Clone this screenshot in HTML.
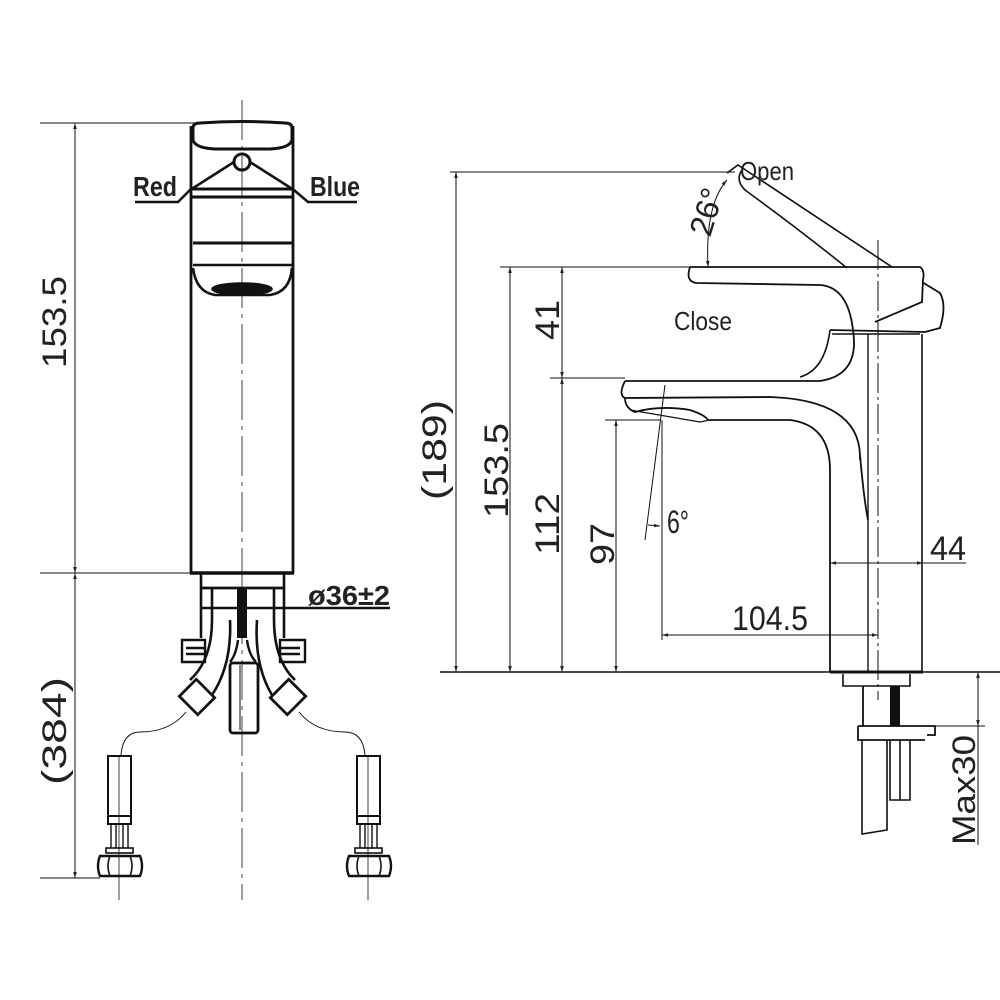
<!DOCTYPE html>
<html><head><meta charset="utf-8"><style>
html,body{margin:0;padding:0;background:#fff}
svg{display:block}
text{font-family:"Liberation Sans",sans-serif;fill:#222}
</style></head><body>
<svg width="1000" height="1000" viewBox="0 0 1000 1000" xmlns="http://www.w3.org/2000/svg">
<defs>
<marker id="a" viewBox="0 0 10 10" refX="10" refY="5" markerWidth="8" markerHeight="6" orient="auto-start-reverse"><path d="M0,2 L10,5 L0,8 z" fill="#222"/></marker>
</defs>
<g fill="none" stroke="#111" stroke-width="1.6">
<!-- LEFT VIEW -->
<line x1="242" y1="100" x2="242" y2="900" stroke-width="0.8" stroke-dasharray="40,6,4,6"/>
<line x1="40" y1="123" x2="195" y2="123" stroke-width="1"/>
<line x1="40" y1="573" x2="190" y2="573" stroke-width="1"/>
<line x1="40" y1="878" x2="100" y2="878" stroke-width="1"/>
<line x1="75" y1="123" x2="75" y2="573" stroke-width="1" marker-start="url(#a)" marker-end="url(#a)"/>
<line x1="75" y1="573" x2="75" y2="878" stroke-width="1" marker-start="url(#a)" marker-end="url(#a)"/>
<path d="M193,128 Q193,123 200,123 Q242,120 285,123 Q292,123 292,128 L292,140 Q290,148 270,149 L215,149 Q195,148 193,140 Z" stroke-width="3"/>
<line x1="191" y1="126" x2="191" y2="573" stroke-width="2.8"/>
<line x1="293" y1="126" x2="293" y2="573" stroke-width="2.8"/>
<line x1="191" y1="189" x2="293" y2="189" stroke-width="3"/>
<line x1="191" y1="197" x2="293" y2="197" stroke-width="3"/>
<circle cx="242" cy="162" r="8" stroke-width="3"/>
<path d="M135,202 L178,202 L190,190 L234,162" stroke-width="2.6"/>
<path d="M357,202 L308,202 L294,190 L250,162" stroke-width="2.6"/>
<line x1="193" y1="243" x2="292" y2="243" stroke-width="3"/>
<line x1="193" y1="265" x2="292" y2="265" stroke-width="2.4"/>
<path d="M193,268 Q196,292 215,295 L270,295 Q290,292 292,268" stroke-width="2.6"/>
<ellipse cx="242" cy="289" rx="30" ry="6" fill="#111"/>
<line x1="190" y1="573" x2="294" y2="573" stroke-width="3.4"/>
<path d="M201,573 L201,638 M284,573 L284,638 M212,588 L212,620 M274,588 L274,620" stroke-width="2.6"/>
<line x1="201" y1="588" x2="284" y2="588" stroke-width="2.8"/>
<line x1="201" y1="608" x2="390" y2="608" stroke-width="2.6"/>
<rect x="237" y="588" width="10" height="50" fill="#111" stroke="none"/>
<path d="M182,640 L205,640 L205,662 L182,662 Z M186,648 L205,648 M186,654 L205,654 M280,640 L305,640 L305,662 L280,662 Z M280,648 L300,648 M280,654 L300,654" stroke-width="2.4"/>
<path d="M212,620 Q212,660 190,680 M230,620 Q232,665 212,695 M274,620 Q274,660 295,680 M257,620 Q254,665 272,695" stroke-width="2.6"/>
<path d="M238,640 Q236,655 230,662 M247,640 Q249,655 256,662" stroke-width="2.4"/>
<rect x="230" y="663" width="28" height="70" rx="3" stroke-width="2.8"/>
<line x1="240" y1="665" x2="240" y2="730" stroke-width="1"/>
<rect x="-13" y="-12" width="26" height="24" transform="translate(197,697) rotate(45)" stroke-width="2.8"/>
<rect x="-13" y="-12" width="26" height="24" transform="translate(288,697) rotate(-45)" stroke-width="2.8"/>
<path d="M186,712 Q170,732 140,732 Q123,732 121,755 M299,712 Q315,732 345,732 Q363,732 365,755" stroke-width="1"/>
<g id="he">
<rect x="108" y="756" width="23" height="60" stroke-width="2"/>
<line x1="119" y1="756" x2="119" y2="900" stroke-width="0.8"/>
<rect x="108" y="816" width="23" height="8" stroke-width="2"/>
<path d="M111,824 L111,848 M116,824 L116,848 M123,824 L123,848 M128,824 L128,848" stroke-width="1.4"/>
<rect x="106" y="848" width="27" height="5" stroke-width="1.6"/>
<path d="M100,856 Q96,866 100,876 L140,876 Q144,866 140,856 Z" stroke-width="2.4"/>
<path d="M110,856 Q106,866 110,876 M130,856 Q134,866 130,876" stroke-width="1.6"/>
</g>
<use href="#he" transform="translate(249,0)"/>
<!-- RIGHT VIEW -->
<line x1="440" y1="672" x2="1000" y2="672" stroke-width="1.6"/>
<line x1="450" y1="172" x2="735" y2="172" stroke-width="1"/>
<line x1="500" y1="267" x2="690" y2="267" stroke-width="1"/>
<line x1="550" y1="378" x2="625" y2="378" stroke-width="1"/>
<line x1="605" y1="420" x2="660" y2="420" stroke-width="1"/>
<line x1="456" y1="172" x2="456" y2="672" stroke-width="1" marker-start="url(#a)" marker-end="url(#a)"/>
<line x1="510" y1="267" x2="510" y2="672" stroke-width="1" marker-start="url(#a)" marker-end="url(#a)"/>
<line x1="562" y1="267" x2="562" y2="378" stroke-width="1" marker-start="url(#a)" marker-end="url(#a)"/>
<line x1="562" y1="378" x2="562" y2="672" stroke-width="1" marker-start="url(#a)" marker-end="url(#a)"/>
<line x1="616" y1="420" x2="616" y2="672" stroke-width="1" marker-start="url(#a)" marker-end="url(#a)"/>
<line x1="662" y1="420" x2="662" y2="640" stroke-width="1"/>
<line x1="662" y1="635" x2="878" y2="635" stroke-width="1" marker-start="url(#a)" marker-end="url(#a)"/>
<line x1="830" y1="563" x2="923" y2="563" stroke-width="1" marker-start="url(#a)" marker-end="url(#a)"/>
<line x1="923" y1="563" x2="966" y2="563" stroke-width="1"/>
<line x1="665" y1="385" x2="645" y2="540" stroke-width="1"/>
<path d="M648,525 L660,526" stroke-width="1" marker-end="url(#a)"/>
<line x1="878" y1="240" x2="878" y2="700" stroke-width="1" stroke-dasharray="30,4,3,4"/>
<path d="M708,267 Q705,205 727,180" stroke-width="1" marker-start="url(#a)" marker-end="url(#a)"/>
<path d="M727,173 L738,165 L892,267 M847,268 Q800,230 745,190 Q735,180 742,170" stroke-width="1.6"/>
<path d="M690,267 L920,267 Q925,270 923,280 L922,302 L875,322 M922,282 L940,293 Q947,305 940,328 L925,332 L830,330" stroke-width="1.8"/>
<path d="M690,267 Q685,282 697,283 L820,285 Q848,287 853,330 Q860,375 820,381 L625,381" stroke-width="1.8"/>
<path d="M830,330 Q825,370 800,377" stroke-width="1.6"/>
<line x1="832" y1="334" x2="920" y2="334" stroke-width="1.6"/>
<line x1="922" y1="334" x2="922" y2="672" stroke-width="1.6"/>
<line x1="868" y1="334" x2="868" y2="672" stroke-width="1.4"/>
<path d="M625,381 Q618,395 625,398 L770,397 Q858,400 860,455 L860,460 M860,455 Q864,500 868,520" stroke-width="1.8"/>
<path d="M625,398 Q625,408 635,412 Q660,405 690,410 Q705,415 708,420 L790,420 Q830,425 830,470 L830,672" stroke-width="1.8"/>
<path d="M630,410 L700,422 L710,420" stroke-width="1.2"/>
<line x1="830" y1="672" x2="923" y2="672" stroke-width="3"/>
<path d="M843,674 L843,686 L910,686 L910,674" stroke-width="1.6"/>
<rect x="890" y="686" width="10" height="40" fill="#111" stroke="none"/>
<path d="M863,686 L863,726 M858,726 L935,726 L935,735 L927,735 M858,726 L858,740 L925,740" stroke-width="1.8"/>
<path d="M862,740 L862,834 L887,830 L887,740 M890,740 L890,800 L910,800 L910,740 M900,740 L900,800" stroke-width="1.6"/>
<line x1="978" y1="672" x2="978" y2="726" stroke-width="1" marker-start="url(#a)" marker-end="url(#a)"/>
<line x1="935" y1="726" x2="985" y2="726" stroke-width="1"/>
<line x1="978" y1="726" x2="978" y2="845" stroke-width="1"/>
</g>
<g font-size="30">
<text x="133" y="196" font-size="28" font-weight="bold" textLength="44" lengthAdjust="spacingAndGlyphs">Red</text>
<text x="310" y="196" font-size="28" font-weight="bold" textLength="50" lengthAdjust="spacingAndGlyphs">Blue</text>
<text x="308" y="605" font-size="28" font-weight="bold" textLength="82" lengthAdjust="spacingAndGlyphs">ø36±2</text>
<text transform="translate(66,368) rotate(-90)" font-size="34" textLength="92" lengthAdjust="spacingAndGlyphs">153.5</text>
<text transform="translate(66,785) rotate(-90)" font-size="34" textLength="108" lengthAdjust="spacingAndGlyphs">(384)</text>
<text transform="translate(446,500) rotate(-90)" font-size="34" textLength="100" lengthAdjust="spacingAndGlyphs">(189)</text>
<text transform="translate(508,518) rotate(-90)" font-size="34" textLength="95" lengthAdjust="spacingAndGlyphs">153.5</text>
<text transform="translate(559,340) rotate(-90)" font-size="34" textLength="40" lengthAdjust="spacingAndGlyphs">41</text>
<text transform="translate(559,555) rotate(-90)" font-size="34" textLength="62" lengthAdjust="spacingAndGlyphs">112</text>
<text transform="translate(614,565) rotate(-90)" font-size="34" textLength="42" lengthAdjust="spacingAndGlyphs">97</text>
<text transform="translate(710,238) rotate(-73)" font-size="32" textLength="48" lengthAdjust="spacingAndGlyphs">26°</text>
<text x="740" y="180" font-size="26" textLength="54" lengthAdjust="spacingAndGlyphs">Open</text>
<text x="674" y="330" font-size="26" textLength="58" lengthAdjust="spacingAndGlyphs">Close</text>
<text x="667" y="533" font-size="32" textLength="22" lengthAdjust="spacingAndGlyphs">6°</text>
<text x="732" y="630" font-size="34" textLength="76" lengthAdjust="spacingAndGlyphs">104.5</text>
<text x="930" y="560" font-size="34" textLength="36" lengthAdjust="spacingAndGlyphs">44</text>
<text transform="translate(975,845) rotate(-90)" font-size="32" textLength="110" lengthAdjust="spacingAndGlyphs">Max30</text>
</g>
</svg>
</body></html>
